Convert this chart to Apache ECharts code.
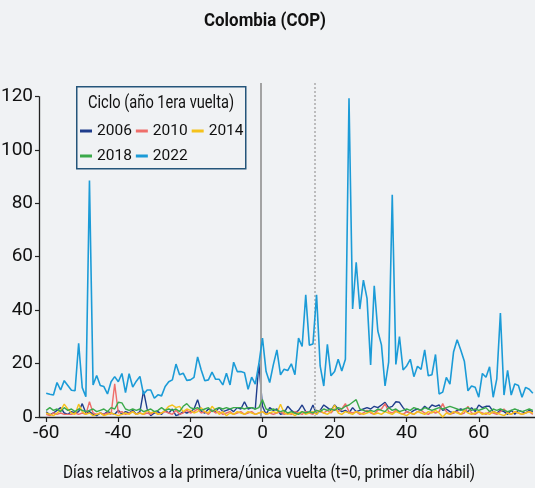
<!DOCTYPE html>
<html>
<head>
<meta charset="utf-8">
<script src="https://cdn.jsdelivr.net/npm/echarts@6/dist/echarts.min.js"></script>
<style>
html,body{margin:0;padding:0;background:#f0f2f4;}
#chart{width:535px;height:488px;}
</style>
</head>
<body>
<div id="chart"></div>
<script>
const FONT = 'Roboto, "Liberation Sans", sans-serif';

const days = [];
for (let t = -60; t <= 75; t++) days.push(t);

const xTicks = [-60, -40, -20, 0, 20, 40, 60];
const yTicks = [0, 20, 40, 60, 80, 100, 120];

const seriesNames = ['2006', '2010', '2014', '2018', '2022'];

const v2006 = [
 2.0,0.8,1.5,2.5,3.5,1.5,1.0,2.0,1.5,2.0,
 5.0,1.5,2.0,1.0,0.5,1.5,1.0,2.0,1.5,1.0,
 2.5,1.0,2.0,1.5,2.5,1.0,2.0,9.8,3.0,0.5,
 1.5,2.0,1.0,2.5,1.5,3.0,0.5,1.0,2.0,1.5,
 2.0,3.0,6.5,2.0,1.5,3.0,2.5,2.0,3.5,2.0,
 2.5,3.0,2.0,3.5,3.0,5.7,3.0,3.5,3.0,20.0,
 4.0,1.0,3.5,2.5,3.0,1.0,1.5,4.0,2.5,1.5,
 2.5,4.5,2.0,1.5,4.5,1.0,2.5,4.5,3.5,2.5,
 4.5,3.0,2.0,2.5,1.5,3.5,2.0,2.5,3.0,3.5,
 3.0,4.0,3.5,4.5,5.5,3.5,4.0,5.7,5.5,3.5,
 2.0,1.5,2.5,3.0,2.5,4.0,3.0,4.5,4.0,4.5,
 2.5,3.0,2.0,1.5,2.5,3.0,2.5,2.0,3.5,2.0,
 4.5,3.5,4.0,4.0,2.0,1.5,2.5,2.0,1.0,2.5,
 1.0,2.5,2.0,1.5,2.5,2.0
];
const v2010 = [
 1.0,0.5,1.5,1.0,1.5,1.0,1.0,1.0,1.5,1.0,
 1.5,1.0,5.7,1.5,1.0,1.5,1.0,1.5,1.0,12.4,
 1.5,2.0,1.0,1.5,2.0,1.0,1.5,1.0,1.5,1.0,
 2.0,1.0,1.5,2.0,1.5,1.0,2.5,1.0,1.5,2.5,
 1.5,2.0,3.0,1.5,2.0,1.0,2.5,1.5,2.0,1.0,
 1.5,2.0,1.0,1.5,2.0,1.0,1.5,2.0,1.0,1.5,
 2.0,1.0,1.5,1.0,1.5,2.0,1.0,1.5,1.0,2.0,
 1.5,1.0,2.0,1.5,1.0,2.5,2.0,1.5,2.5,1.5,
 3.0,2.0,3.0,5.0,2.0,1.5,2.0,1.0,1.5,2.5,
 1.5,1.0,2.5,3.0,5.0,2.0,1.5,2.5,1.5,1.0,
 2.0,1.5,1.0,2.0,2.5,1.5,1.0,2.0,1.5,2.0,
 5.0,2.0,1.0,1.5,2.0,1.0,1.5,4.0,1.5,1.0,
 2.0,1.5,1.0,2.0,1.5,1.0,2.0,3.0,1.5,1.0,
 2.0,1.5,1.0,1.5,2.0,1.0
];
const v2014 = [
 1.5,1.0,0.5,1.5,2.5,4.8,3.0,1.5,1.0,4.8,
 2.0,1.0,1.5,0.5,1.0,1.5,0.5,1.0,1.5,1.0,
 0.5,1.0,1.5,1.0,2.0,1.0,1.5,1.0,2.5,1.5,
 2.0,1.0,1.5,2.5,4.0,4.5,3.5,4.0,2.0,3.0,
 2.5,1.5,2.0,3.5,2.0,1.5,4.0,2.5,1.0,2.0,
 0.5,1.5,1.0,2.0,1.5,1.0,2.0,1.5,1.0,1.5,
 2.0,1.0,1.5,2.0,1.5,4.8,1.5,1.0,1.5,0.5,
 1.5,2.0,1.0,1.5,2.0,1.0,2.5,1.5,1.0,2.0,
 4.5,1.5,1.0,2.0,1.5,1.0,2.0,1.5,1.0,1.5,
 2.0,1.0,1.5,1.0,2.0,1.5,1.0,2.0,1.5,1.0,
 0.5,1.5,1.0,2.0,1.5,1.0,2.0,1.5,2.5,1.5,
 0.0,1.5,1.0,2.0,1.5,1.0,2.5,1.5,1.0,1.5,
 2.0,1.0,1.5,1.0,2.0,1.5,1.0,0.5,1.5,1.0,
 2.0,1.5,1.0,1.5,2.0,1.5
];
const v2018 = [
 2.5,3.5,2.5,3.0,2.0,3.5,2.5,3.0,2.0,3.0,
 2.5,2.0,2.5,3.0,2.0,2.5,3.0,2.0,3.5,3.0,
 5.5,5.3,3.0,2.5,3.0,2.5,3.0,2.0,2.5,3.0,
 2.0,2.5,3.5,2.5,3.0,2.5,3.0,2.0,4.0,5.0,
 3.5,3.0,3.5,2.5,3.0,3.5,2.0,3.0,3.5,3.0,
 3.5,3.0,3.5,3.5,3.5,3.0,3.5,3.5,3.0,3.5,
 6.5,3.0,2.5,3.0,2.5,2.0,2.5,1.5,2.0,1.5,
 1.0,2.0,1.5,2.0,1.5,2.5,2.0,3.0,2.5,3.0,
 2.5,3.5,3.0,4.0,4.5,5.5,6.5,3.0,2.5,2.0,
 2.5,2.0,3.0,2.5,2.0,3.5,2.5,3.0,2.0,2.5,
 3.0,2.5,3.5,3.0,2.5,3.5,3.0,2.5,3.0,3.5,
 3.0,3.5,4.0,3.5,3.0,2.5,3.0,3.5,2.5,3.0,
 2.5,3.0,3.5,2.0,3.0,2.5,3.0,2.5,2.0,2.5,
 3.0,2.5,2.0,2.5,3.0,2.5
];
const v2022 = [
 8.9,8.5,8.2,12.9,10.1,13.6,11.8,10.0,9.8,27.6,
 11.0,7.6,88.5,12.0,15.5,11.8,11.4,8.6,13.2,15.1,
 13.2,16.3,9.1,16.2,11.2,13.4,15.2,8.5,10.1,10.1,
 7.0,8.3,7.9,11.4,13.2,13.9,19.8,15.8,16.4,13.7,
 13.9,14.8,22.5,17.6,13.6,13.9,16.8,14.1,14.1,12.0,
 16.4,12.0,20.5,17.0,17.0,16.6,10.4,14.9,12.3,20.0,
 29.5,17.0,12.9,19.5,25.1,15.8,17.9,17.4,19.9,15.8,
 29.5,26.4,45.7,26.9,27.3,45.7,19.1,11.6,27.2,15.4,
 17.0,21.6,17.2,21.6,119.3,40.4,57.9,40.4,51.2,44.4,
 19.5,49.1,32.2,27.0,11.6,20.5,83.2,19.7,30.1,17.6,
 19.1,21.6,15.1,19.0,17.8,25.1,15.4,15.8,23.4,8.6,
 9.3,14.8,12.3,24.3,28.9,25.1,20.9,9.8,11.6,11.1,
 7.4,16.3,14.9,18.8,7.4,14.3,38.9,8.2,17.5,8.2,
 12.4,11.8,7.4,11.1,10.4,8.9
];

const colors = ['#1f3d8c', '#ef6e6a', '#f5c21b', '#3aa94a', '#1b9bd7'];
const values = [v2006, v2010, v2014, v2018, v2022];

const round1 = -0.6;   // primera vuelta
const round2 = 14.6;   // segunda vuelta
const xMin = -62, xMax = 75.6, yMin = 0, yMax = 125;

const TITLE = 'Colombia (COP)';
const XNAME = 'Días relativos a la primera/única vuelta (t=0, primer día hábil)';
const LEGEND_TITLE = 'Ciclo (año 1era vuelta)';

// Condensed look: squeeze text horizontally to the reference width
const measureCtx = document.createElement('canvas').getContext('2d');
function squeeze(text, font, targetWidth) {
  measureCtx.font = font;
  const w = measureCtx.measureText(text).width;
  return w > 0 ? Math.min(1, targetWidth / w) : 1;
}

const series = seriesNames.map((name, k) => ({
  name: name,
  type: 'line',
  data: days.map((t, i) => [t, values[k][i]]),
  showSymbol: false,
  symbol: 'none',
  clip: false,
  lineStyle: { width: k === 4 ? 1.6 : 1.4, color: colors[k] },
  itemStyle: { color: colors[k] },
  z: 3 + k
}));

series[0].markLine = {
  silent: true,
  symbol: 'none',
  label: { show: false },
  animation: false,
  data: [
    { xAxis: round1, lineStyle: { color: '#a3a3a3', width: 2, type: 'solid' } },
    { xAxis: round2, lineStyle: { color: '#ababab', width: 1.5, type: [2, 2] } },
    [ { coord: [xMin, yMin], lineStyle: { color: '#222', width: 1.3, type: 'solid' } },
      { coord: [xMin, yTicks[yTicks.length - 1]] } ]
  ]
};

const titleFont = 'bold 18px ' + FONT;
const nameFont = '19px ' + FONT;
const legTitleFont = '18.5px ' + FONT;

const chart = echarts.init(document.getElementById('chart'), null, { renderer: 'canvas' });
chart.setOption({
  backgroundColor: '#f0f2f4',
  animation: false,
  textStyle: { fontFamily: FONT },
  grid: { left: 39, right: 0, top: 83, bottom: 71, containLabel: false, outerBoundsMode: 'none' },
  xAxis: {
    type: 'value',
    min: xMin, max: xMax,
    axisLine: { show: true, onZero: false, lineStyle: { color: '#222', width: 1.3 } },
    axisTick: { show: true, length: 5, customValues: xTicks, lineStyle: { color: '#222', width: 1.2 } },
    axisLabel: { customValues: xTicks, fontFamily: FONT, fontSize: 19, color: '#111', margin: 7 },
    splitLine: { show: false }
  },
  yAxis: {
    type: 'value',
    min: yMin, max: yMax,
    axisLine: { show: false, onZero: false },
    axisTick: { show: true, length: 4, customValues: yTicks, lineStyle: { color: '#222', width: 1.2 } },
    axisLabel: { customValues: yTicks, fontFamily: FONT, fontSize: 19, color: '#111', margin: 6 },
    splitLine: { show: false }
  },
  legend: [
    {
      data: ['2006', '2010', '2014'],
      left: 80, top: 123,
      icon: 'rect', itemWidth: 12, itemHeight: 3, itemGap: 4,
      textStyle: { fontFamily: FONT, fontSize: 15.5, color: '#111' },
      padding: 0, selectedMode: false
    },
    {
      data: ['2018', '2022'],
      left: 80, top: 148,
      icon: 'rect', itemWidth: 12, itemHeight: 3, itemGap: 4,
      textStyle: { fontFamily: FONT, fontSize: 15.5, color: '#111' },
      padding: 0, selectedMode: false
    }
  ],
  graphic: [
    {
      type: 'text', x: 265, y: 21, z: 5,
      scaleX: squeeze(TITLE, titleFont, 122),
      style: { text: TITLE, font: titleFont, fill: '#111', align: 'center', verticalAlign: 'middle' }
    },
    {
      type: 'text', x: 269, y: 473, z: 5,
      scaleX: squeeze(XNAME, nameFont, 412),
      style: { text: XNAME, font: nameFont, fill: '#111', align: 'center', verticalAlign: 'middle' }
    },
    {
      type: 'rect', left: 76, top: 86, z: 1,
      shape: { width: 169, height: 82 },
      style: { fill: '#f0f2f4', stroke: '#24557a', lineWidth: 1.5 }
    },
    {
      type: 'text', x: 88, y: 103, z: 2,
      scaleX: squeeze(LEGEND_TITLE, legTitleFont, 146),
      style: { text: LEGEND_TITLE, font: legTitleFont, fill: '#111', align: 'left', verticalAlign: 'middle' }
    }
  ],
  series: series
});
</script>
</body>
</html>
